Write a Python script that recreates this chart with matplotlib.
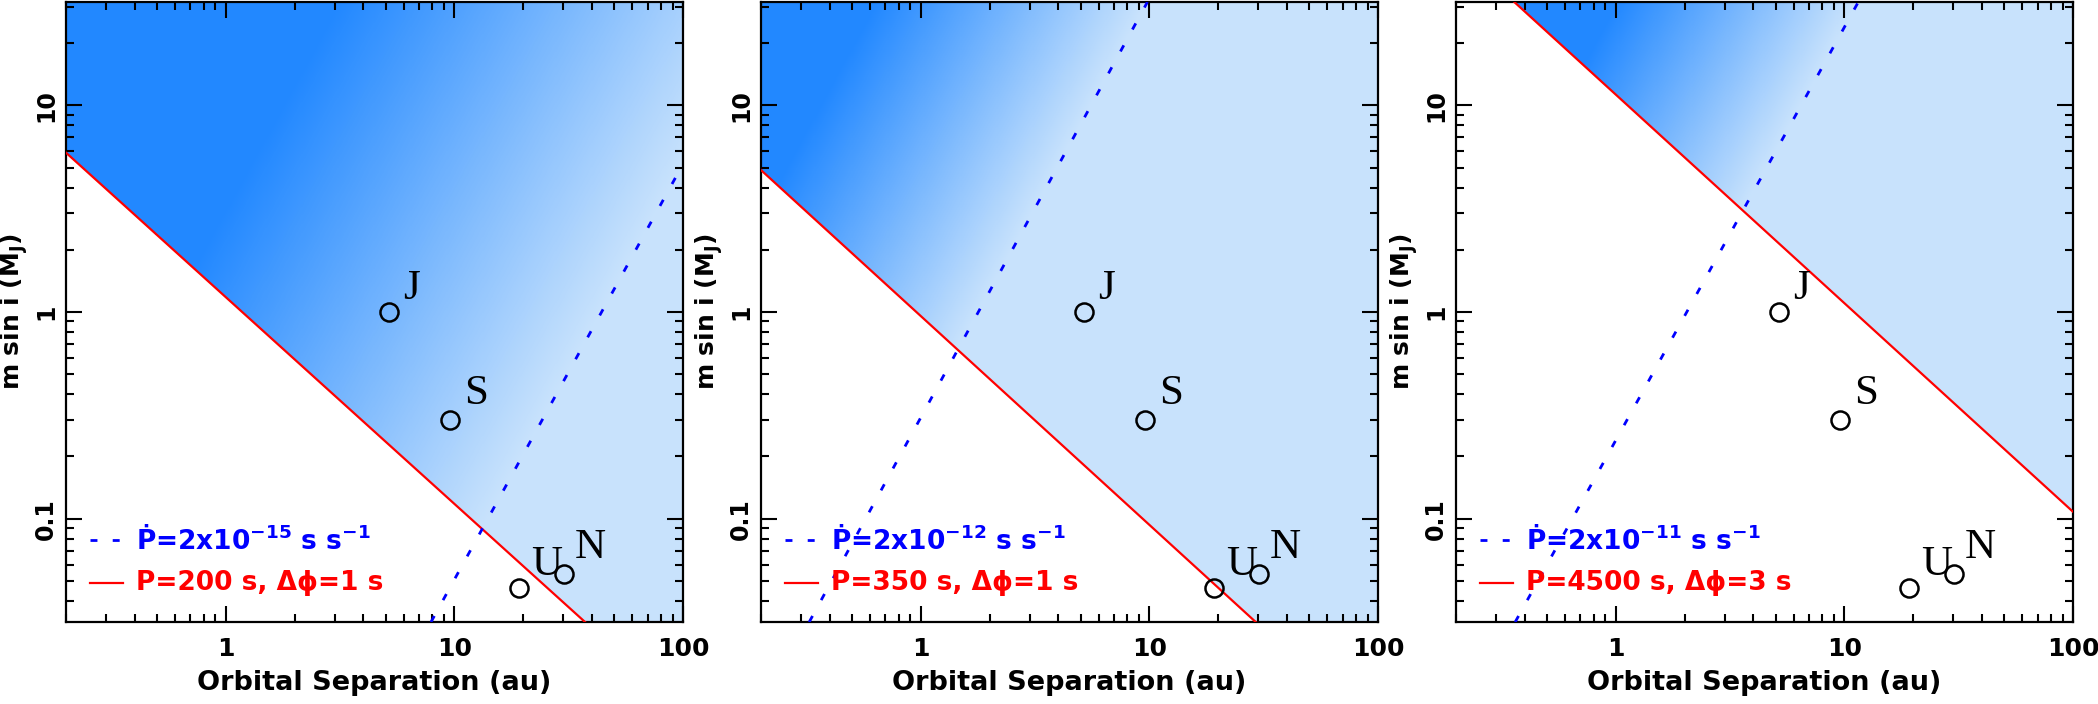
import numpy as np
import matplotlib
matplotlib.use("Agg")
import matplotlib.pyplot as plt
from matplotlib.colors import LinearSegmentedColormap
from matplotlib.ticker import FixedLocator, NullFormatter

plt.rcParams['lines.scale_dashes'] = False
plt.rcParams['mathtext.fontset'] = 'dejavusans'

# ---------------- data ----------------
pdot_labels = ["Ṗ=2x10$^{\\mathbf{-15}}$ s s$^{\\mathbf{-1}}$",
               "Ṗ=2x10$^{\\mathbf{-12}}$ s s$^{\\mathbf{-1}}$",
               "Ṗ=2x10$^{\\mathbf{-11}}$ s s$^{\\mathbf{-1}}$"]
timing_labels = ["P=200 s, Δϕ=1 s", "P=350 s, Δϕ=1 s", "P=4500 s, Δϕ=3 s"]
# timing-limit line (red), two end points per panel
timing_a = [[0.2, 37.3], [0.2, 29.2], [0.36, 100.0]]
timing_m = [[5.9, 0.0316], [4.86, 0.0316], [31.6, 0.108]]
# Pdot-limit line (blue dotted), two end points per panel
pdot_a = [[7.9, 100.0], [0.325, 9.8], [0.363, 11.5]]
pdot_m = [[0.0316, 5.2], [0.0316, 31.6], [0.0316, 31.6]]
# solar-system planets
planet_names = ["J", "S", "U", "N"]
planet_a = [5.2, 9.55, 19.2, 30.1]
planet_m = [1.0, 0.30, 0.046, 0.054]
x_major = [1, 10, 100]
x_major_labels = ["1", "10", "100"]
y_major = [0.1, 1, 10]
y_major_labels = ["0.1", "1", "10"]

# ---------------- style ----------------
XLIM = (0.2, 100.0)
YLIM = (10 ** -1.5, 10 ** 1.5)
DARK = "#2288ff"
LIGHT = "#c8e2fc"
cmap = LinearSegmentedColormap.from_list("bl", [DARK, LIGHT])
# shading depth (decades above the Pdot line that reach full colour)
grad_depth = [3.8, 2.4, 2.1]
W, H = 2098, 704
lefts = [66, 761, 1456]
axw, axh, axb = 617, 620, 82
label_font = {"family": "DejaVu Sans", "weight": "bold"}

fig = plt.figure(figsize=(W / 100, H / 100), dpi=100)


def loglin(xs, ys):
    lx, ly = np.log10(xs), np.log10(ys)
    s = (ly[1] - ly[0]) / (lx[1] - lx[0])
    return s, ly[0] - s * lx[0]


for i in range(3):
    ax = fig.add_axes([lefts[i] / W, axb / H, axw / W, axh / H])
    ax.set_xscale("log")
    ax.set_yscale("log")
    ax.set_xlim(*XLIM)
    ax.set_ylim(*YLIM)

    # gradient shading above the timing line, coloured by distance above Pdot line
    s_r, c_r = loglin(timing_a[i], timing_m[i])
    s_b, c_b = loglin(pdot_a[i], pdot_m[i])
    gx = np.linspace(np.log10(XLIM[0]), np.log10(XLIM[1]), 601)
    gy = np.linspace(np.log10(YLIM[0]), np.log10(YLIM[1]), 601)
    GX, GY = np.meshgrid(0.5 * (gx[1:] + gx[:-1]), 0.5 * (gy[1:] + gy[:-1]))
    ratio = GY - (s_b * GX + c_b)
    t = np.clip(1 - ratio / grad_depth[i], 0, 1)
    mask = GY < (s_r * GX + c_r)
    ax.pcolormesh(10 ** gx, 10 ** gy, np.ma.array(t, mask=mask), cmap=cmap,
                  vmin=0, vmax=1, shading="flat", rasterized=True, zorder=0)

    # limit lines
    ax.plot(timing_a[i], timing_m[i], color="red", lw=1.6, zorder=3)
    ax.plot(pdot_a[i], pdot_m[i], color="blue", lw=2.0, dashes=(5, 13), zorder=3)

    # planets
    ax.plot(planet_a, planet_m, "o", mfc="none", mec="black", ms=13, mew=1.8, zorder=4)
    offs = {"J": (16, 17), "S": (19, 19), "U": (20, 17), "N": (19, 19)}
    for n, a, m in zip(planet_names, planet_a, planet_m):
        ax.annotate(n, (a, m), xytext=offs[n], textcoords="offset points",
                    ha="center", va="center", fontsize=31,
                    family="Liberation Serif", zorder=5)

    # legend
    ax.plot([0.039, 0.092], [0.132, 0.132], transform=ax.transAxes, color="blue",
            lw=2.0, dashes=(5, 11), zorder=6)
    ax.plot([0.039, 0.092], [0.063, 0.063], transform=ax.transAxes, color="red",
            lw=1.6, zorder=6)
    ax.text(0.113, 0.132, pdot_labels[i], transform=ax.transAxes, color="blue",
            fontsize=19, va="center", ha="left", zorder=6, **label_font)
    ax.text(0.113, 0.063, timing_labels[i], transform=ax.transAxes, color="red",
            fontsize=19, va="center", ha="left", zorder=6, **label_font)

    # axes decoration
    ax.xaxis.set_major_locator(FixedLocator(x_major))
    ax.yaxis.set_major_locator(FixedLocator(y_major))
    ax.xaxis.set_minor_locator(FixedLocator([0.2, 0.3, 0.4, 0.5, 0.6, 0.7, 0.8, 0.9,
                                             2, 3, 4, 5, 6, 7, 8, 9,
                                             20, 30, 40, 50, 60, 70, 80, 90]))
    ax.yaxis.set_minor_locator(FixedLocator([0.04, 0.05, 0.06, 0.07, 0.08, 0.09,
                                             0.2, 0.3, 0.4, 0.5, 0.6, 0.7, 0.8, 0.9,
                                             2, 3, 4, 5, 6, 7, 8, 9, 20, 30]))
    ax.xaxis.set_minor_formatter(NullFormatter())
    ax.yaxis.set_minor_formatter(NullFormatter())
    ax.set_xticklabels(x_major_labels, fontsize=18, **label_font)
    ax.set_yticklabels(y_major_labels, fontsize=17, rotation=90, va="center", **label_font)
    ax.tick_params(which="both", direction="in", top=True, right=True, width=1.5)
    ax.tick_params(which="major", length=11.5)
    ax.tick_params(which="minor", length=6)
    ax.tick_params(axis="x", which="major", pad=11)
    ax.tick_params(axis="y", which="major", pad=5.5)
    for sp in ax.spines.values():
        sp.set_linewidth(1.6)
    ax.set_xlabel("Orbital Separation (au)", fontsize=19.5, labelpad=6, **label_font)
    ax.set_ylabel("m sin i (M$_\\mathbf{J}$)", fontsize=18, **label_font)
    ax.yaxis.set_label_coords(-0.058, 0.5)

fig.savefig("out.png", dpi=100)
